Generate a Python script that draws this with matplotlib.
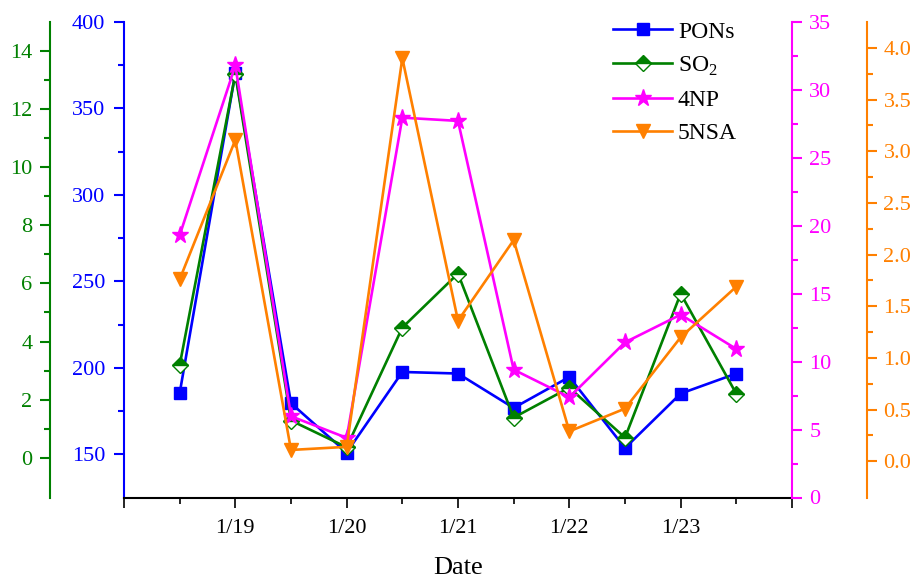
import numpy as np
import matplotlib
matplotlib.use('Agg')
import matplotlib.pyplot as plt
from matplotlib.ticker import MultipleLocator, FixedLocator, FormatStrFormatter

plt.rcParams['font.family'] = ['Liberation Serif', 'DejaVu Serif']
plt.rcParams['mathtext.fontset'] = 'custom'
plt.rcParams['mathtext.rm'] = 'Liberation Serif'

# sampling times (day of January), twice a day
days = [18.5, 19, 19.5, 20, 20.5, 21, 21.5, 22, 22.5, 23, 23.5]
date_ticks = [19, 20, 21, 22, 23]
date_labels = ['1/19', '1/20', '1/21', '1/22', '1/23']

pons = [185.3, 370.5, 179.5, 151.0, 197.6, 196.7, 176.8, 194.7, 153.6, 185.1, 196.7]
so2 = [3.18, 13.21, 1.28, 0.36, 4.48, 6.34, 1.38, 2.41, 0.69, 5.65, 2.20]
np4 = [19.3, 31.8, 5.98, 4.39, 27.96, 27.72, 9.41, 7.38, 11.42, 13.46, 10.93]
nsa5 = [1.76, 3.11, 0.11, 0.14, 3.90, 1.36, 2.14, 0.29, 0.51, 1.20, 1.69]

BLUE = '#0000FF'
GREEN = '#008000'
MAGENTA = '#FF00FF'
ORANGE = '#FF8000'
TICK_FS = 16


def style_y(axis, color, pad):
    axis.tick_params(axis='y', which='both', colors=color, labelsize=TICK_FS, width=1.5, pad=pad)
    axis.tick_params(axis='y', which='major', length=7.5)
    axis.tick_params(axis='y', which='minor', length=4.5)


fig = plt.figure(figsize=(9.13, 5.78), dpi=100)
ax = fig.add_axes([124/913, 1 - 497.5/578, 668/913, 475.5/578])
ax_g = ax.twinx()
ax_m = ax.twinx()
ax_o = ax.twinx()

lw = 1.9

l1, = ax.plot(days, pons, color=BLUE, lw=lw, marker='s', ms=8.5, label='PONs')
l2, = ax_g.plot(days, so2, color=GREEN, lw=lw, marker='D', ms=8.5, fillstyle='top',
                markerfacecoloralt='white', markeredgecolor=GREEN, markeredgewidth=1,
                label='SO$_2$')
l3, = ax_m.plot(days, np4, color=MAGENTA, lw=lw, marker='*', ms=12.5, label='4NP')
l4, = ax_o.plot(days, nsa5, color=ORANGE, lw=lw, marker='v', ms=10.5, label='5NSA')

# x axis
ax.set_xlim(18, 24)
ax.set_xticks([18] + date_ticks + [24])
ax.set_xticklabels([''] + date_labels + [''])
ax.xaxis.set_minor_locator(FixedLocator([18.5, 19.5, 20.5, 21.5, 22.5, 23.5]))
ax.set_xlabel('Date', fontsize=19)
ax.xaxis.set_label_coords(0.5, -0.126)
ax.tick_params(axis='x', which='major', length=7.5, width=1.2, labelsize=TICK_FS, pad=8)
ax.tick_params(axis='x', which='minor', length=4.5, width=1.2)
ax.spines['bottom'].set_linewidth(1.5)

# blue (PONs) left axis
ax.set_ylim(125, 400)
ax.yaxis.set_major_locator(FixedLocator([150, 200, 250, 300, 350, 400]))
ax.yaxis.set_minor_locator(FixedLocator([175, 225, 275, 325, 375]))
ax.spines['left'].set_color(BLUE)
ax.spines['left'].set_linewidth(1.5)
style_y(ax, BLUE, 6)
ax.spines['top'].set_visible(False)
ax.spines['right'].set_visible(False)

# green (SO2) outer left axis
ax_g.set_ylim(-1.37, 15.0)
ax_g.yaxis.tick_left()
ax_g.spines['left'].set_position(('axes', -0.111))
ax_g.spines['left'].set_visible(True)
ax_g.spines['left'].set_color(GREEN)
ax_g.spines['left'].set_linewidth(1.5)
for s in ['right', 'top', 'bottom']:
    ax_g.spines[s].set_visible(False)
ax_g.yaxis.set_major_locator(FixedLocator(list(range(0, 15, 2))))
ax_g.yaxis.set_minor_locator(FixedLocator(list(range(1, 14, 2))))
style_y(ax_g, GREEN, 5)

# magenta (4NP) right axis
ax_m.set_ylim(0, 35)
ax_m.yaxis.set_major_locator(MultipleLocator(5))
ax_m.yaxis.set_minor_locator(FixedLocator(np.arange(2.5, 35, 5)))
ax_m.spines['right'].set_color(MAGENTA)
ax_m.spines['right'].set_linewidth(1.5)
for s in ['left', 'top', 'bottom']:
    ax_m.spines[s].set_visible(False)
style_y(ax_m, MAGENTA, 5)

# orange (5NSA) outer right axis
ax_o.set_ylim(-0.35, 4.25)
ax_o.spines['right'].set_position(('axes', 1.112))
ax_o.spines['right'].set_color(ORANGE)
ax_o.spines['right'].set_linewidth(1.5)
for s in ['left', 'top', 'bottom']:
    ax_o.spines[s].set_visible(False)
ax_o.yaxis.set_major_locator(FixedLocator(np.arange(0, 4.01, 0.5)))
ax_o.yaxis.set_minor_locator(FixedLocator(np.arange(0.25, 4.0, 0.5)))
ax_o.yaxis.set_major_formatter(FormatStrFormatter('%.1f'))
style_y(ax_o, ORANGE, 4.5)

leg = ax_o.legend(handles=[l1, l2, l3, l4], loc='upper left',
                  bbox_to_anchor=(613/913, 1 - 21/578), bbox_transform=fig.transFigure,
                  frameon=False, fontsize=17, handlelength=2.5, handletextpad=0.25,
                  labelspacing=0.5, borderpad=0, borderaxespad=0)

fig.savefig('out.png', dpi=100)
